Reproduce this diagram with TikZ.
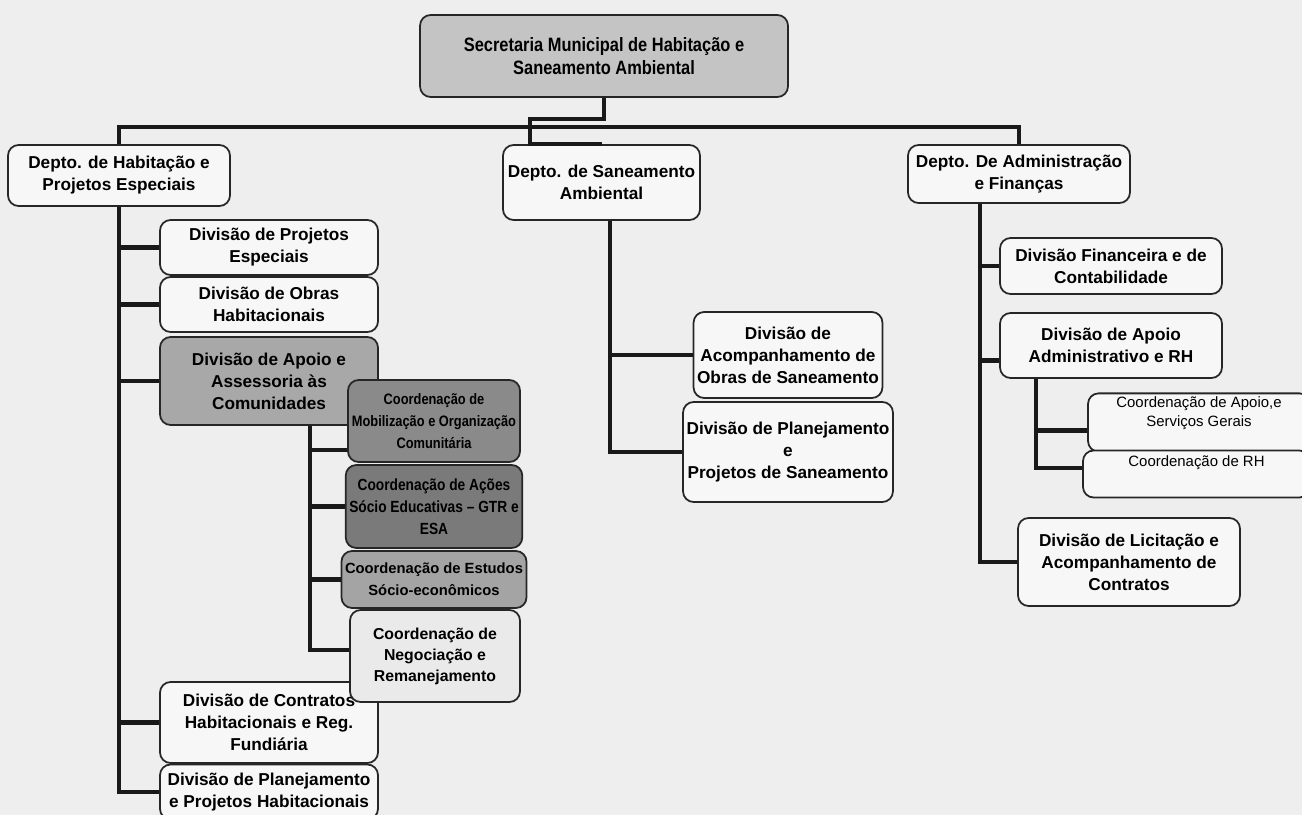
\documentclass[tikz,border=0pt]{standalone}
\usepackage{fontspec}
\setmainfont{Liberation Sans}
\newfontfamily\narrowfont{Liberation Sans}[FakeStretch=0.85]
\usepackage{xcolor}

\definecolor{bggray}{HTML}{EEEEEE}
\definecolor{boxwhite}{HTML}{F7F7F7}
\definecolor{topgray}{HTML}{C4C4C4}
\definecolor{apoiogray}{HTML}{A8A8A8}
\definecolor{mobgray}{HTML}{8A8A8A}
\definecolor{acoesgray}{HTML}{7A7A7A}
\definecolor{estgray}{HTML}{A4A4A4}
\definecolor{neggray}{HTML}{EAEAEA}

\begin{document}
\begin{tikzpicture}[x=0.02cm,y=-0.02cm,
    box/.style={draw=black!85, line width=1pt, rounded corners=6pt, fill=boxwhite,
        align=center, inner sep=2pt, font=\fontsize{9.8}{12.5}\selectfont\bfseries},
    coordbox/.style={box, font=\narrowfont\fontsize{9}{12.5}\selectfont\bfseries},
    smallbox/.style={box, font=\fontsize{8.5}{10.5}\selectfont},
    link/.style={line width=2.6pt, black!90}]
    % Background
    \fill[bggray] (0,0) rectangle (1302,815);
    \useasboundingbox (0,0) rectangle (1302,815);

    % Secretaria
    \node[box, fill=topgray, minimum width=7.36cm, minimum height=1.64cm,
        font=\narrowfont\fontsize{11}{13}\selectfont\bfseries] (sec) at (604,56)
        {Secretaria Municipal de Habitação e\\Saneamento Ambiental};

    % Departamentos
    \node[box, minimum width=4.44cm, minimum height=1.22cm] (dHab) at (119,175.5)
        {Depto. de Habitação e\\Projetos Especiais};
    \node[box, minimum width=3.94cm, minimum height=1.5cm] (dSan) at (601.5,182.5)
        {Depto. de Saneamento\\Ambiental};
    \node[box, minimum width=4.44cm, minimum height=1.16cm] (dAdm) at (1019,174)
        {Depto. De Administração\\e Finanças};

    % Divisoes - Habitacao
    \node[box, minimum width=4.36cm, minimum height=1.1cm] (vProj) at (269,247.5)
        {Divisão de Projetos\\Especiais};
    \node[box, minimum width=4.36cm, minimum height=1.1cm] (vObras) at (269,304.5)
        {Divisão de Obras\\Habitacionais};
    \node[box, fill=apoiogray, minimum width=4.36cm, minimum height=1.76cm] (vApoio) at (269,381)
        {Divisão de Apoio e\\Assessoria às\\Comunidades};
    \node[box, minimum width=4.36cm, minimum height=1.62cm] (vContr) at (269,722.5)
        {Divisão de Contratos\\Habitacionais e Reg.\\Fundiária};
    \node[box, minimum width=4.36cm, minimum height=1.1cm] (vPlan) at (269,792)
        {Divisão de Planejamento\\e Projetos Habitacionais};

    % Coordenacoes - Apoio as Comunidades
    \node[coordbox, fill=mobgray, minimum width=3.44cm, minimum height=1.64cm,
        font=\narrowfont\fontsize{8.6}{12.5}\selectfont\bfseries] (cMob) at (434,421)
        {Coordenação de\\Mobilização e Organização\\Comunitária};
    \node[coordbox, fill=acoesgray, minimum width=3.44cm, minimum height=1.66cm,
        font=\narrowfont\fontsize{9.2}{12.5}\selectfont\bfseries] (cAcoes) at (434,506.5)
        {Coordenação de Ações\\Sócio Educativas – GTR e\\ESA};
    \node[box, fill=estgray, minimum width=3.44cm, minimum height=1.14cm,
        font=\fontsize{8.4}{12.5}\selectfont\bfseries] (cEst) at (434,579.5)
        {Coordenação de Estudos\\Sócio-econômicos};
    \node[box, fill=neggray, minimum width=3.4cm, minimum height=1.84cm,
        font=\fontsize{9}{12}\selectfont\bfseries] (cNeg) at (435,656)
        {Coordenação de\\Negociação e\\Remanejamento};

    % Divisoes - Saneamento
    \node[box, minimum width=3.6cm, minimum height=1.72cm] (vAcomp) at (788,355)
        {Divisão de\\Acompanhamento de\\Obras de Saneamento};
    \node[box, minimum width=3.6cm, minimum height=2cm] (vPlanSan) at (788,452)
        {Divisão de Planejamento\\e\\Projetos de Saneamento};

    % Divisoes - Administracao
    \node[box, minimum width=4.44cm, minimum height=1.12cm] (vFin) at (1111,266)
        {Divisão Financeira e de\\Contabilidade};
    \node[box, minimum width=4.44cm, minimum height=1.3cm] (vApAdm) at (1111,345.5)
        {Divisão de Apoio\\Administrativo e RH};
    \node[smallbox, minimum width=4.44cm, minimum height=1.1cm] (cServ) at (1199,422.5)
        {Coordenação de Apoio,e\\Serviços Gerais\\[2pt]};
    \node[smallbox, minimum width=4.54cm, minimum height=0.94cm] (cRH) at (1196.5,474)
        {Coordenação de RH\\[4pt]\mbox{}};
    \node[box, minimum width=4.44cm, minimum height=1.76cm] (vLic) at (1129,562)
        {Divisão de Licitação e\\Acompanhamento de\\Contratos};

    % Ligacoes
    \coordinate (bus) at (0,127);
    \coordinate (jSan) at ([xshift=-1.43cm]dSan.north);
    \draw[link] (sec.south) -- ++(0,21) -| (jSan) -- (dSan.north);
    \draw[link] (dHab.north) -- (dHab.north |- bus) -- (dAdm.north |- bus) -- (dAdm.north);

    % Habitacao
    \draw[link] (dHab.south) |- (vPlan.west);
    \draw[link] (dHab.south |- vProj.west) -- (vProj.west);
    \draw[link] (dHab.south |- vObras.west) -- (vObras.west);
    \draw[link] (dHab.south |- vApoio.west) -- (vApoio.west);
    \draw[link] (dHab.south |- vContr.west) -- (vContr.west);

    % Apoio as Comunidades
    \coordinate (tApoio) at ([xshift=0.82cm]vApoio.south);
    \coordinate (bMob) at ([yshift=-0.58cm]cMob.west);
    \coordinate (bNeg) at ([yshift=0.12cm]cNeg.west);
    \draw[link] (tApoio) |- (bNeg);
    \draw[link] (tApoio |- bMob) -- (bMob);
    \draw[link] (tApoio |- cAcoes.west) -- (cAcoes.west);
    \draw[link] (tApoio |- cEst.west) -- (cEst.west);

    % Saneamento
    \coordinate (tSan) at ([xshift=0.17cm]dSan.south);
    \draw[link] (tSan) |- (vPlanSan.west);
    \draw[link] (tSan |- vAcomp.west) -- (vAcomp.west);

    % Administracao
    \coordinate (tAdm) at ([xshift=-0.78cm]dAdm.south);
    \coordinate (bApAdm) at ([yshift=-0.3cm]vApAdm.west);
    \draw[link] (tAdm) |- (vLic.west);
    \draw[link] (tAdm |- vFin.west) -- (vFin.west);
    \draw[link] (tAdm |- bApAdm) -- (bApAdm);
    \coordinate (tApAdm) at ([xshift=-1.5cm]vApAdm.south);
    \coordinate (bServ) at ([yshift=-0.16cm]cServ.west);
    \coordinate (bRH) at ([yshift=0.12cm]cRH.west);
    \draw[link] (tApAdm) |- (bRH);
    \draw[link] (tApAdm |- bServ) -- (bServ);
\end{tikzpicture}
\end{document}
